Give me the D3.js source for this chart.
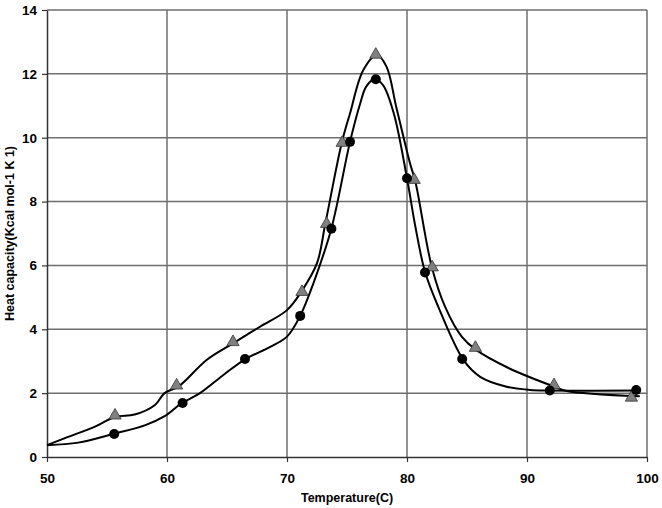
<!DOCTYPE html>
<html>
<head>
<meta charset="utf-8">
<script src="https://cdn.jsdelivr.net/npm/d3@7"></script>
<style>
  body { margin: 0; background: #fff; }
  text { font-family: "Liberation Sans", Arial, sans-serif; font-weight: bold; }
</style>
</head>
<body>
<svg id="chart"></svg>
<script>
const svgWidth = 662;
const svgHeight = 508;

// tick values
const xTicks = [50, 60, 70, 80, 90, 100];
const yTicks = [0, 2, 4, 6, 8, 10, 12, 14];

// measured points (triangles, grey)
const triTemp = [55.67, 60.8, 65.5, 71.25, 73.3, 74.6, 77.4, 80.6, 82.1, 85.7, 92.25, 98.7];
const triCp = [1.3, 2.24, 3.6, 5.17, 7.3, 9.84, 12.6, 8.68, 5.94, 3.42, 2.25, 1.86];

// measured points (circles, black)
const dotTemp = [55.6, 61.3, 66.5, 71.1, 73.7, 75.25, 77.4, 80.0, 81.5, 84.6, 91.9, 99.1];
const dotCp = [0.72, 1.69, 3.07, 4.42, 7.15, 9.87, 11.83, 8.73, 5.78, 3.07, 2.08, 2.1];

// fitted curve through triangles
const triFitTemp = [50, 51.5, 54, 55.7, 57.3, 59, 59.8, 61, 63.3, 65.5, 67.75, 70, 71.2, 72.5, 73.2, 74.55, 75.25, 76.36, 77.5, 78.3, 79.1, 80.25, 80.7, 82.06, 83.17, 84.56, 85.7, 88.5, 92.3, 93.3, 99.4];
const triFitCp = [0.37, 0.59, 0.95, 1.26, 1.33, 1.63, 2.0, 2.22, 3.04, 3.56, 4.08, 4.6, 5.18, 6.07, 7.32, 9.82, 10.76, 12.12, 12.59, 12.22, 10.97, 9.2, 8.62, 5.96, 4.71, 3.77, 3.37, 2.78, 2.2, 2.07, 1.9];

// fitted curve through circles
const dotFitTemp = [50, 52.6, 55.5, 58.2, 59.8, 61.2, 62.75, 64.7, 66.5, 68.6, 70, 71.1, 72.2, 73.7, 75.25, 76.1, 76.6, 77.3, 78.0, 78.9, 80, 80.7, 81.5, 82.6, 84.7, 86.1, 88.3, 90.25, 91.9, 99.4];
const dotFitCp = [0.37, 0.45, 0.72, 1.0, 1.28, 1.68, 2.0, 2.57, 3.06, 3.45, 3.77, 4.42, 5.44, 7.16, 9.87, 11.07, 11.6, 11.83, 11.65, 10.76, 8.73, 7.21, 5.8, 4.71, 3.04, 2.51, 2.2, 2.1, 2.08, 2.08];

var margin = { top: 10, right: 15, bottom: 51, left: 47 },
  width = svgWidth - margin.left - margin.right,
  height = svgHeight - margin.top - margin.bottom;

var svg = d3
  .select("#chart")
  .attr("width", svgWidth)
  .attr("height", svgHeight)
  .append("g")
  .attr("transform", "translate(" + margin.left + "," + margin.top + ")");

var x = d3.scaleLinear().domain([50, 100]).range([0, width]);
var y = d3.scaleLinear().domain([0, 14]).range([height, 0]);

// grid
svg.append("g")
  .selectAll("line")
  .data(yTicks.slice(1))
  .enter()
  .append("line")
  .attr("x1", 0)
  .attr("x2", width)
  .attr("y1", (d) => y(d))
  .attr("y2", (d) => y(d))
  .attr("stroke", "#6e6e6e")
  .attr("stroke-width", 1.5);

svg.append("g")
  .selectAll("line")
  .data(xTicks.slice(1))
  .enter()
  .append("line")
  .attr("x1", (d) => x(d))
  .attr("x2", (d) => x(d))
  .attr("y1", 0)
  .attr("y2", height)
  .attr("stroke", "#6e6e6e")
  .attr("stroke-width", 1.5);

// axes
var xAxis = svg
  .append("g")
  .attr("transform", "translate(0," + height + ")")
  .call(d3.axisBottom(x).tickValues(xTicks).tickSize(5).tickSizeOuter(0).tickPadding(11));

var yAxis = svg
  .append("g")
  .call(d3.axisLeft(y).tickValues(yTicks).tickSize(5).tickSizeOuter(0).tickPadding(5));

[xAxis, yAxis].forEach((a) => {
  a.select(".domain").attr("stroke", "#333").attr("stroke-width", 1.5);
  a.selectAll(".tick line").attr("stroke", "#333").attr("stroke-width", 1.2);
  a.selectAll("text")
    .attr("fill", "#000")
    .style("font-size", "13.5px")
    .style("font-family", "Liberation Sans, Arial, sans-serif")
    .style("font-weight", "bold");
});

// titles
svg.append("text")
  .attr("x", width / 2)
  .attr("y", height + 45)
  .attr("text-anchor", "middle")
  .style("font-size", "12.5px")
  .text("Temperature(C)");

svg.append("text")
  .attr("transform", "translate(-33," + height / 2 + ")rotate(-90)")
  .attr("text-anchor", "middle")
  .style("font-size", "12.5px")
  .text("Heat capacity(Kcal mol-1 K 1)");

// curves
var line = d3
  .line()
  .x((d) => x(d[0]))
  .y((d) => y(d[1]))
  .curve(d3.curveCatmullRom.alpha(0.5));

svg.append("path")
  .datum(triFitTemp.map((t, i) => [t, triFitCp[i]]))
  .attr("d", line)
  .attr("fill", "none")
  .attr("stroke", "#000")
  .attr("stroke-width", 2);

svg.append("path")
  .datum(dotFitTemp.map((t, i) => [t, dotFitCp[i]]))
  .attr("d", line)
  .attr("fill", "none")
  .attr("stroke", "#000")
  .attr("stroke-width", 2);

// markers
svg
  .selectAll("myTri")
  .data(triTemp.map((t, i) => [t, triCp[i]]))
  .enter()
  .append("path")
  .attr("d", d3.symbol().type(d3.symbolTriangle).size(65))
  .attr("transform", (d) => "translate(" + x(d[0]) + "," + y(d[1]) + ")")
  .attr("fill", "#808080")
  .attr("stroke", "#333")
  .attr("stroke-width", 0.8);

svg
  .selectAll("myDot")
  .data(dotTemp.map((t, i) => [t, dotCp[i]]))
  .enter()
  .append("circle")
  .attr("cx", (d) => x(d[0]))
  .attr("cy", (d) => y(d[1]))
  .attr("r", 5)
  .attr("fill", "#000");
</script>
</body>
</html>
